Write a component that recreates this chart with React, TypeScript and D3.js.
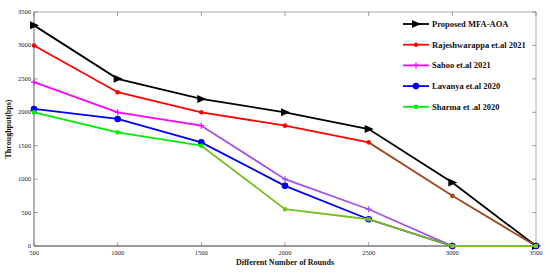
import React from "react";
import * as d3 from "d3";

const rounds = [500, 1000, 1500, 2000, 2500, 3000, 3500];
const yTicks = [0, 500, 1000, 1500, 2000, 2500, 3000, 3500];

const proposed = [3300, 2500, 2200, 2000, 1750, 950, 0];
const rajeshwarappa = [3000, 2300, 2000, 1800, 1550, 750, 0];
const sahoo = [2450, 2000, 1800, 1000, 550, 0, 0];
const lavanya = [2050, 1900, 1550, 900, 400, 0, 0];
const sharma = [2000, 1700, 1500, 550, 400, 0, 0];

const seriesNames = [
  "Proposed MFA-AOA",
  "Rajeshwarappa et.al 2021",
  "Sahoo et.al 2021",
  "Lavanya et.al 2020",
  "Sharma et .al 2020",
];
const seriesColors = ["#000000", "#ff0000", "#ff00ff", "#0000ee", "#00ee00"];
// the printed figure shows later segments of some lines in a muddier tone
const laterColors = ["#000000", "#a0471e", "#a552e6", "#0000ee", "#78c020"];
const laterFrom = [99, 4, 2, 99, 2];
const seriesMarkers = ["triangle", "dot", "plus", "circle", "square"];
const seriesData = [proposed, rajeshwarappa, sahoo, lavanya, sharma];

const W = 550;
const H = 273;
const left = 34;
const right = 536;
const top = 12;
const bottom = 246;

function Marker({ kind, x, y, color }: { kind: string; x: number; y: number; color: string }) {
  if (kind === "triangle") {
    return <path d={`M${x - 4},${y - 4}L${x + 5},${y}L${x - 4},${y + 4}Z`} fill={color} />;
  }
  if (kind === "dot") return <circle cx={x} cy={y} r={2.3} fill={color} />;
  if (kind === "plus") {
    return (
      <path d={`M${x - 3},${y}H${x + 3}M${x},${y - 3}V${y + 3}`} stroke={color} strokeWidth={1.3} />
    );
  }
  if (kind === "circle") return <circle cx={x} cy={y} r={3.3} fill={color} />;
  return <rect x={x - 2} y={y - 2} width={4} height={4} fill={color} />;
}

export default function App() {
  const x = d3.scaleLinear().domain([500, 3500]).range([left, right]);
  const y = d3.scaleLinear().domain([0, 3500]).range([bottom, top]);
  const line = d3
    .line<number>()
    .x((_, i) => x(rounds[i]))
    .y((d) => y(d));

  const tickFont = { fontFamily: "'Liberation Serif', serif", fontSize: 6.5, fill: "#222" };

  return (
    <svg width={W} height={H} style={{ position: "absolute", left: 0, top: 0, background: "#fff" }}>
      {/* frame */}
      <rect x={left} y={top} width={right - left} height={bottom - top} fill="none" stroke="#999" strokeWidth={0.8} />
      <line x1={left} x2={right} y1={bottom} y2={bottom} stroke="#999" strokeWidth={2} />
      <line x1={left} x2={left} y1={top} y2={bottom} stroke="#999" strokeWidth={1.2} />

      {rounds.map((r) => (
        <g key={r}>
          <line x1={x(r)} x2={x(r)} y1={bottom} y2={bottom - 4} stroke="#777" strokeWidth={0.7} />
          <line x1={x(r)} x2={x(r)} y1={top} y2={top + 4} stroke="#777" strokeWidth={0.7} />
          <text x={x(r)} y={bottom + 9} textAnchor="middle" {...tickFont}>
            {r}
          </text>
        </g>
      ))}
      {yTicks.map((t) => (
        <g key={t}>
          <line x1={left} x2={left + 4} y1={y(t)} y2={y(t)} stroke="#777" strokeWidth={0.7} />
          <line x1={right} x2={right - 4} y1={y(t)} y2={y(t)} stroke="#777" strokeWidth={0.7} />
          <text x={left - 3} y={y(t) + 2} textAnchor="end" {...tickFont}>
            {t}
          </text>
        </g>
      ))}

      {seriesData.map((vals, si) => {
        const cut = Math.min(laterFrom[si], vals.length - 1);
        const first = vals.map((v, i) => (i <= cut ? v : NaN));
        const rest = vals.map((v, i) => (i >= cut ? v : NaN));
        const segLine = line.defined((d) => !isNaN(d));
        return (
          <g key={si}>
            <path d={segLine(first) || ""} fill="none" stroke={seriesColors[si]} strokeWidth={1.8} />
            <path d={segLine(rest) || ""} fill="none" stroke={laterColors[si]} strokeWidth={1.8} />
            {vals.map((v, i) => (
              <Marker
                key={i}
                kind={seriesMarkers[si]}
                x={x(rounds[i])}
                y={y(v)}
                color={i > cut ? laterColors[si] : seriesColors[si]}
              />
            ))}
          </g>
        );
      })}

      {/* legend */}
      {seriesNames.map((name, i) => {
        const ly = 24 + i * 20.7;
        return (
          <g key={name}>
            <line x1={403} x2={429} y1={ly} y2={ly} stroke={seriesColors[i]} strokeWidth={1.8} />
            <Marker kind={seriesMarkers[i]} x={416} y={ly} color={seriesColors[i]} />
            <text
              x={432}
              y={ly + 3}
              fontFamily="'Liberation Serif', serif"
              fontWeight="bold"
              fontSize={8.5}
              fill="#111"
            >
              {name}
            </text>
          </g>
        );
      })}

      <text
        x={285}
        y={265}
        textAnchor="middle"
        fontFamily="'Liberation Serif', serif"
        fontWeight="bold"
        fontSize={8}
        fill="#111"
      >
        Different Number of Rounds
      </text>
      <text
        transform={`translate(11,${(top + bottom) / 2}) rotate(-90)`}
        textAnchor="middle"
        fontFamily="'Liberation Serif', serif"
        fontWeight="bold"
        fontSize={8}
        fill="#111"
      >
        Throughput(bps)
      </text>
    </svg>
  );
}
